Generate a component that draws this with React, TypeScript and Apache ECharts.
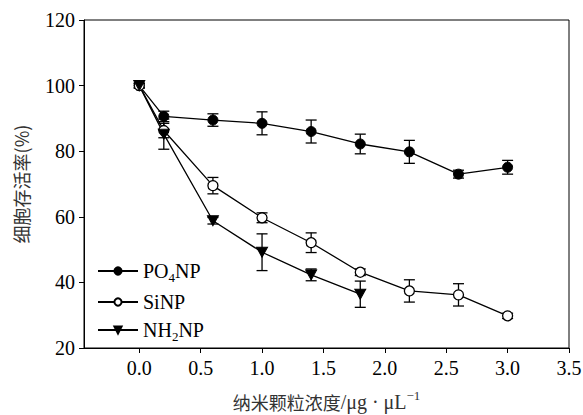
import React, { useEffect, useRef } from "react";
import * as echarts from "echarts";

const xValues = [0, 0.2, 0.6, 1.0, 1.4, 1.8, 2.2, 2.6, 3.0];
const po4Values = [100, 90.6, 89.5, 88.5, 86.0, 82.2, 79.8, 73.0, 75.1];
const po4Errors = [0.7, 1.6, 1.9, 3.5, 3.5, 3.0, 3.5, 1.2, 2.1];
const siValues = [100, 86.3, 69.5, 59.7, 52.1, 43.1, 37.4, 36.2, 29.8];
const siErrors = [0.7, 2.2, 2.5, 1.5, 3.0, 1.0, 3.4, 3.4, 0.8];
const nh2X = [0, 0.2, 0.6, 1.0, 1.4, 1.8];
const nh2Values = [100, 85.2, 58.8, 49.2, 42.3, 36.4];
const nh2Errors = [0.7, 4.6, 1.0, 5.6, 1.8, 4.0];
const xTicks = [0, 0.5, 1.0, 1.5, 2.0, 2.5, 3.0, 3.5];
const seriesNames = ["PO4NP", "SiNP", "NH2NP"];

const SERIF = "Liberation Serif";
const CJK = "Noto Sans CJK SC";

function pairs(xs: number[], ys: number[]) {
  return xs.map((x, i) => [x, ys[i]]);
}
function errData(xs: number[], ys: number[], es: number[]) {
  return xs.map((x, i) => [x, ys[i] - es[i], ys[i] + es[i]]);
}

const errRender = (params: any, api: any) => {
  const x = api.value(0);
  const top = api.coord([x, api.value(2)]);
  const bot = api.coord([x, api.value(1)]);
  const hw = 5.5;
  const style = { stroke: "#000", lineWidth: 1.3 };
  return {
    type: "group",
    children: [
      { type: "line", shape: { x1: top[0], y1: top[1], x2: bot[0], y2: bot[1] }, style },
      { type: "line", shape: { x1: top[0] - hw, y1: top[1], x2: top[0] + hw, y2: top[1] }, style },
      { type: "line", shape: { x1: bot[0] - hw, y1: bot[1], x2: bot[0] + hw, y2: bot[1] }, style },
    ],
  };
};

export default function App() {
  const ref = useRef<HTMLDivElement>(null);
  useEffect(() => {
    if (!ref.current) return;
    const chart = echarts.init(ref.current, null, { renderer: "svg" });
    const lineBase = {
      type: "line",
      lineStyle: { color: "#000", width: 1.3 },
      z: 3,
    };
    chart.setOption({
      animation: false,
      grid: {
        left: 84,
        right: 14,
        top: 20,
        bottom: 67,
        show: true,
        borderColor: "#000",
        borderWidth: 1,
        containLabel: false,
        outerBoundsMode: "none",
      },
      legend: {
        data: seriesNames,
        orient: "vertical",
        left: 97,
        top: 261,
        padding: 0,
        itemWidth: 40,
        itemHeight: 9,
        itemGap: 8,
        formatter: (name: string) => {
          if (name === "PO4NP") return "{a|PO}{s|4}{a|NP}";
          if (name === "NH2NP") return "{a|NH}{s|2}{a|NP}";
          return "{a|" + name + "}";
        },
        textStyle: {
          rich: {
            a: { fontFamily: SERIF, fontSize: 20, color: "#000", lineHeight: 26, verticalAlign: "middle" },
            s: { fontFamily: SERIF, fontSize: 13, color: "#000", lineHeight: 12, verticalAlign: "bottom" },
          },
        },
      },
      xAxis: {
        type: "value",
        min: -0.45,
        max: 3.5,
        name: "{c|纳米颗粒浓度}{t|/μg · μL}{p|−1}",
        nameLocation: "middle",
        nameGap: 41,
        nameTextStyle: {
          rich: {
            c: { fontFamily: CJK, fontSize: 18, color: "#333", lineHeight: 26, verticalAlign: "middle" },
            t: { fontFamily: SERIF, fontSize: 20, color: "#333", lineHeight: 26, verticalAlign: "middle" },
            p: { fontFamily: SERIF, fontSize: 13, color: "#333", lineHeight: 12, verticalAlign: "top" },
          },
        },
        axisLine: { show: true, onZero: false, lineStyle: { color: "#000", width: 1 } },
        axisTick: { show: true, length: 5, customValues: xTicks, lineStyle: { color: "#000" } },
        axisLabel: {
          customValues: xTicks,
          formatter: (v: number) => v.toFixed(1),
          fontFamily: SERIF,
          fontWeight: "normal",
          fontSize: 20,
          color: "#000",
          margin: 10,
        },
        splitLine: { show: false },
      },
      yAxis: {
        type: "value",
        min: 20,
        max: 120,
        interval: 20,
        name: "细胞存活率(%)",
        nameLocation: "middle",
        nameGap: 54,
        nameTextStyle: { fontFamily: CJK, fontSize: 18, color: "#333" },
        axisLine: { show: true, onZero: false, lineStyle: { color: "#000", width: 1 } },
        axisTick: { show: true, length: 5, lineStyle: { color: "#000" } },
        axisLabel: {
          fontFamily: SERIF,
          fontWeight: "normal",
          fontSize: 20,
          color: "#000",
          margin: 9,
        },
        splitLine: { show: false },
      },
      series: [
        {
          type: "custom",
          name: "po4err",
          renderItem: errRender,
          data: errData(xValues, po4Values, po4Errors),
          encode: { x: 0, y: [1, 2] },
          z: 2,
        },
        {
          type: "custom",
          name: "sierr",
          renderItem: errRender,
          data: errData(xValues, siValues, siErrors),
          encode: { x: 0, y: [1, 2] },
          z: 2,
        },
        {
          type: "custom",
          name: "nh2err",
          renderItem: errRender,
          data: errData(nh2X, nh2Values, nh2Errors),
          encode: { x: 0, y: [1, 2] },
          z: 2,
        },
        {
          ...lineBase,
          name: "PO4NP",
          data: pairs(xValues, po4Values),
          symbol: "circle",
          symbolSize: 10,
          itemStyle: { color: "#000", borderColor: "#000", borderWidth: 1 },
        },
        {
          ...lineBase,
          name: "SiNP",
          data: pairs(xValues, siValues),
          symbol: "circle",
          symbolSize: 10,
          itemStyle: { color: "#fff", borderColor: "#000", borderWidth: 1.3 },
        },
        {
          ...lineBase,
          name: "NH2NP",
          data: pairs(nh2X, nh2Values),
          symbol: "triangle",
          symbolRotate: 180,
          symbolSize: [11, 10],
          itemStyle: { color: "#000", borderColor: "#000", borderWidth: 1 },
        },
      ],
    });
    return () => chart.dispose();
  }, []);
  return <div ref={ref} style={{ width: 583, height: 415, position: "absolute", left: 0, top: 0 }} />;
}
